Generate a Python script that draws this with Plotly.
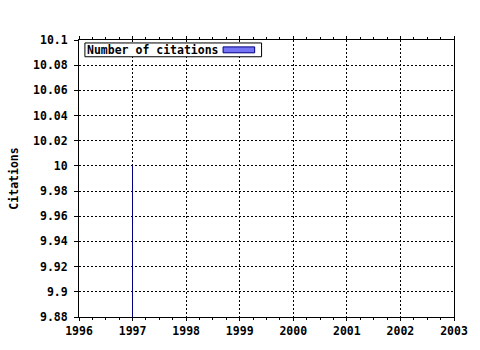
import plotly.graph_objects as go

years = [1997]
citations = [10]
series_name = "Number of citations"
x_ticks = [1996, 1997, 1998, 1999, 2000, 2001, 2002, 2003]
y_ticks = [9.88, 9.9, 9.92, 9.94, 9.96, 9.98, 10, 10.02, 10.04, 10.06, 10.08, 10.1]
y_tick_text = ["9.88", "9.9", "9.92", "9.94", "9.96", "9.98", "10", "10.02", "10.04", "10.06", "10.08", "10.1"]

FONT = dict(family="DejaVu Sans Mono", size=11.5, color="black", weight="bold")

L, R, T, B = 79, 21, 40, 29
W, H = 480, 350
pw, ph = W - L - R, H - T - B

fig = go.Figure()
fig.add_trace(go.Bar(
    x=years, y=citations, name=series_name, width=0.002,
    marker=dict(color="#000080", line=dict(color="#000080", width=1)),
    showlegend=False,
))

fig.update_layout(
    width=W, height=H,
    margin=dict(l=L, r=R, t=T, b=B, pad=0),
    paper_bgcolor="white", plot_bgcolor="white",
    font=FONT,
    xaxis=dict(
        range=[1996, 2003], tickmode="array", tickvals=x_ticks,
        ticktext=[str(v) for v in x_ticks],
        showline=True, linecolor="black", linewidth=1, mirror="allticks",
        ticks="outside", ticklen=3, tickcolor="black",
        minor=dict(dtick=0.25, tick0=1996, ticks="outside", ticklen=2, tickcolor="black", showgrid=False),
        showgrid=True, gridcolor="black", gridwidth=1, griddash="2px,2px",
        zeroline=False, tickfont=FONT,
    ),
    yaxis=dict(
        range=[9.88, 10.1], tickmode="array", tickvals=y_ticks, ticktext=y_tick_text,
        showline=True, linecolor="black", linewidth=1, mirror=True,
        ticks="outside", ticklen=4, tickcolor="black", ticklabelstandoff=4,
        showgrid=True, gridcolor="black", gridwidth=1, griddash="2px,2px",
        zeroline=False, tickfont=FONT,
        title=dict(text="Citations", font=FONT, standoff=12),
    ),
    bargap=0,
)

# legend box (text followed by swatch, as in the reference)
fig.add_shape(
    type="rect", xref="paper", yref="paper", layer="above",
    x0=(85 - L) / pw, x1=(264 - L) / pw,
    y0=1 - (57 - T) / ph, y1=1 - (43 - T) / ph,
    fillcolor="white", line=dict(color="black", width=1),
)
fig.add_shape(
    type="rect", xref="paper", yref="paper", layer="above",
    x0=(225 - L) / pw, x1=(257 - L) / pw,
    y0=1 - (53 - T) / ph, y1=1 - (47 - T) / ph,
    fillcolor="#7474f4", line=dict(color="#000080", width=1),
)
fig.add_annotation(
    xref="paper", yref="paper", x=(85 - L) / pw, y=1 - (50 - T) / ph,
    xanchor="left", yanchor="middle", text=series_name, showarrow=False,
    align="left", font=FONT,
)

fig.write_html("out.html")
